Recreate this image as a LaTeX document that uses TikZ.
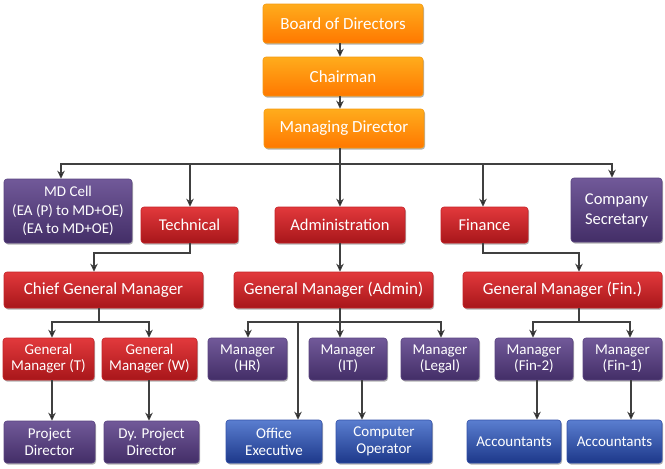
\documentclass[tikz,border=0pt]{standalone}
\usepackage{fontspec}
\setmainfont{Carlito}
\usetikzlibrary{arrows.meta,shadows,calc}
\definecolor{orT}{HTML}{FFAC1C}
\definecolor{orB}{HTML}{FF7800}
\definecolor{orD}{HTML}{F59A10}
\definecolor{rdT}{HTML}{E2393C}
\definecolor{rdB}{HTML}{A8161A}
\definecolor{rdD}{HTML}{C42328}
\definecolor{puT}{HTML}{715999}
\definecolor{puB}{HTML}{432E67}
\definecolor{puD}{HTML}{5A4480}
\definecolor{blT}{HTML}{5A7ED0}
\definecolor{blB}{HTML}{1D388A}
\definecolor{blD}{HTML}{3250A8}
\definecolor{lnC}{HTML}{404040}
\begin{document}
\begin{tikzpicture}[x=1pt,y=-1pt,
  boxbase/.style={rounded corners=3pt, inner sep=0pt, align=center, text=white,
    line width=0.6pt,
    drop shadow={shadow xshift=1pt,shadow yshift=-1.5pt,opacity=0.3,fill=black}},
  orbox/.style={boxbase, top color=orT, bottom color=orB, draw=orD,
    minimum width=160pt, minimum height=39pt, font=\fontsize{17}{20}\selectfont},
  rdbox/.style={boxbase, top color=rdT, bottom color=rdB, draw=rdD,
    minimum height=36pt, font=\fontsize{16.5}{20}\selectfont},
  gmbox/.style={rdbox, minimum width=199pt, font=\fontsize{17}{20}\selectfont},
  rd3box/.style={boxbase, top color=rdT, bottom color=rdB, draw=rdD,
    minimum height=42pt, font=\fontsize{15}{16}\selectfont},
  pubox/.style={boxbase, top color=puT, bottom color=puB, draw=puD,
    minimum height=42pt, font=\fontsize{15}{16}\selectfont},
  pu4box/.style={pubox, font=\fontsize{15}{17}\selectfont},
  blbox/.style={boxbase, top color=blT, bottom color=blB, draw=blD,
    minimum height=43pt, font=\fontsize{15}{17}\selectfont},
  ln/.style={draw=lnC, line width=1.1pt},
  arr/.style={ln, -{Stealth[length=8pt,width=7.5pt,inset=2.5pt,fill=black]}}
]
\useasboundingbox (0,0) rectangle (665,469);

% top chain
\node[orbox] (board) at (343,23.5) {Board of Directors};
\node[orbox] (chair) at (343,76.5) {Chairman};
\node[orbox] (md) at (344,128.5) {Managing Director};

% row 2
\node[pubox, minimum width=128pt, minimum height=64pt, font=\fontsize{15}{18.3}\selectfont] (mdcell) at (68,211) {MD Cell\\(EA (P) to MD+OE)\\(EA to MD+OE)};
\node[rdbox, minimum width=97pt] (tech) at (189.5,225) {Technical};
\node[rdbox, minimum width=130pt] (admin) at (340,225) {Administration};
\node[rdbox, minimum width=87pt] (fin) at (484.5,225) {Finance};
\node[pubox, minimum width=91pt, minimum height=64pt, font=\fontsize{16.5}{20}\selectfont] (cs) at (616.5,210) {Company\\Secretary};

% GM row
\node[gmbox] (cgm) at (103.5,290) {Chief General Manager};
\node[gmbox] (gma) at (333.5,290) {General Manager (Admin)};
\node[gmbox] (gmf) at (562.5,290) {General Manager (Fin.)};

% row 3
\node[rd3box, minimum width=91pt] (gmt) at (48.5,359) {General\\Manager (T)};
\node[rd3box, minimum width=95pt] (gmw) at (149.5,359) {General\\Manager (W)};
\node[pubox, minimum width=79pt] (hr) at (247.5,359) {Manager\\(HR)};
\node[pubox, minimum width=78pt] (it) at (348,359) {Manager\\(IT)};
\node[pubox, minimum width=78pt] (legal) at (440,359) {Manager\\(Legal)};
\node[pubox, minimum width=78pt] (fintwo) at (534,359) {Manager\\(Fin-2)};
\node[pubox, minimum width=79pt] (finone) at (622.5,359) {Manager\\(Fin-1)};

% row 4
\node[pu4box, minimum width=91pt] (pd) at (49.5,442) {Project\\Director};
\node[pu4box, minimum width=95pt] (dpd) at (151.5,442) {Dy. Project\\Director};
\node[blbox, minimum width=96pt] (oe) at (274,441.5) {Office\\Executive};
\node[blbox, minimum width=96pt] (co) at (384,441.5) {Computer\\Operator};
\node[blbox, minimum width=94pt] (accone) at (514,441.5) {Accountants};
\node[blbox, minimum width=95pt] (acctwo) at (614.5,441.5) {Accountants};

% guide coordinates
\coordinate (sp) at (340,0);
\coordinate (busy) at (0,164);
\coordinate (bustwo) at (0,253);
\coordinate (busthree) at (0,322);
\coordinate (xmdc) at (61,0);
\coordinate (xtech) at (190,0);
\coordinate (xfin) at (483,0);
\coordinate (xcs) at (612,0);
\coordinate (xcgmin) at (94,0);
\coordinate (xgmfin) at (579,0);
\coordinate (xcgmout) at (99,0);
\coordinate (xgt) at (52,0);
\coordinate (xgw) at (149,0);
\coordinate (xhr) at (248,0);
\coordinate (xoe) at (298,0);
\coordinate (xleg) at (441,0);
\coordinate (xftwo) at (533,0);
\coordinate (xfone) at (630,0);
\coordinate (xco) at (362,0);
\coordinate (xaccone) at (537,0);
\coordinate (xacctwo) at (631,0);

% connectors
\draw[arr] (board.south -| sp) -- (chair.north -| sp);
\draw[arr] (chair.south -| sp) -- (md.north -| sp);

\draw[arr] (md.south -| sp) |- (busy -| xmdc) -- (mdcell.north -| xmdc);
\draw[arr] (md.south -| sp) |- (busy -| xtech) -- (tech.north -| xtech);
\draw[arr] (md.south -| sp) -- (admin.north -| sp);
\draw[arr] (md.south -| sp) |- (busy -| xfin) -- (fin.north -| xfin);
\draw[arr] (md.south -| sp) |- (busy -| xcs) -- (cs.north -| xcs);

\draw[arr] (tech.south -| xtech) |- (bustwo -| xcgmin) -- (cgm.north -| xcgmin);
\draw[arr] (admin.south -| sp) -- (gma.north -| sp);
\draw[arr] (fin.south -| xfin) |- (bustwo -| xgmfin) -- (gmf.north -| xgmfin);

\draw[arr] (cgm.south -| xcgmout) |- (busthree -| xgt) -- (gmt.north -| xgt);
\draw[arr] (cgm.south -| xcgmout) |- (busthree -| xgw) -- (gmw.north -| xgw);

\draw[arr] (gma.south -| sp) |- (busthree -| xhr) -- (hr.north -| xhr);
\draw[arr] (gma.south -| sp) -- (it.north -| sp);
\draw[arr] (gma.south -| sp) |- (busthree -| xleg) -- (legal.north -| xleg);
\draw[arr] (gma.south -| sp) |- (busthree -| xoe) -- (oe.north -| xoe);

\draw[arr] (gmf.south -| xgmfin) |- (busthree -| xftwo) -- (fintwo.north -| xftwo);
\draw[arr] (gmf.south -| xgmfin) |- (busthree -| xfone) -- (finone.north -| xfone);

\draw[arr] (gmt.south -| xgt) -- (pd.north -| xgt);
\draw[arr] (gmw.south -| xgw) -- (dpd.north -| xgw);
\draw[arr] (it.south -| xco) -- (co.north -| xco);
\draw[arr] (fintwo.south -| xaccone) -- (accone.north -| xaccone);
\draw[arr] (finone.south -| xacctwo) -- (acctwo.north -| xacctwo);
\end{tikzpicture}
\end{document}
